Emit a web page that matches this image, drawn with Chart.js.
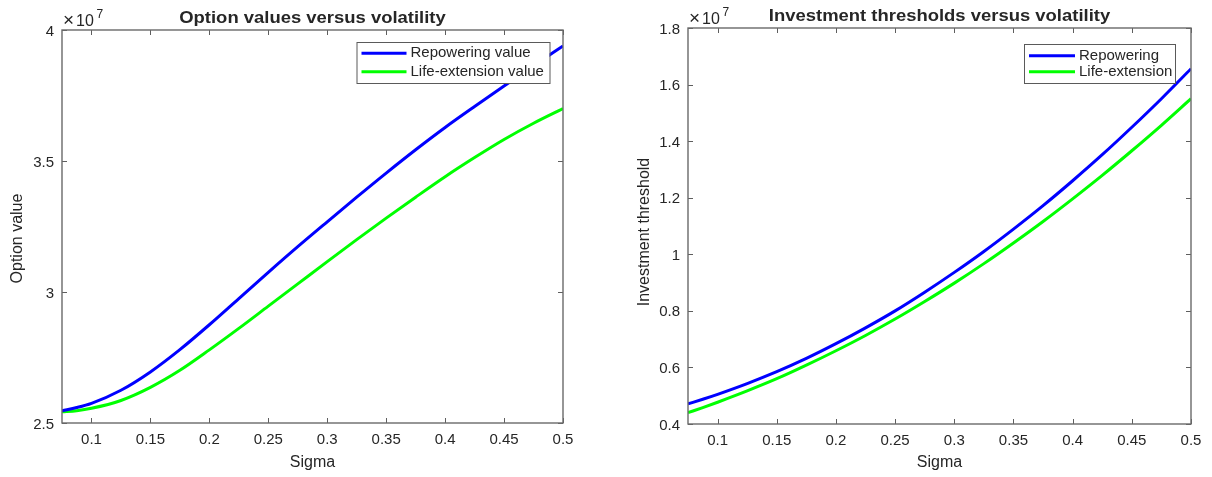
<!DOCTYPE html>
<html>
<head>
<meta charset="utf-8">
<script src="https://cdn.jsdelivr.net/npm/chart.js@4"></script>
<style>
  html, body { margin: 0; padding: 0; background: #ffffff; }
  #wrap { position: relative; width: 1212px; height: 477px; overflow: hidden; }
  .pane { position: absolute; top: 0; width: 606px; height: 477px; }
</style>
</head>
<body>
<div id="wrap">
  <div class="pane" style="left:0"><canvas id="optionChart" width="606" height="477"></canvas></div>
  <div class="pane" style="left:606px"><canvas id="thresholdChart" width="606" height="477"></canvas></div>
</div>
<script>
// Volatility grid shared by both panels
const sigma = [0.075, 0.0875, 0.1, 0.125, 0.15, 0.175, 0.2, 0.225, 0.25, 0.275, 0.3,
               0.325, 0.35, 0.375, 0.4, 0.425, 0.45, 0.475, 0.5];

// Option values (currency units)
const repoweringValue = [25470000, 25590000, 25750000, 26250000, 26950000, 27800000, 28750000,
                         29750000, 30750000, 31730000, 32680000, 33620000, 34540000,
                         35430000, 36280000, 37080000, 37860000, 38630000, 39390000];
const lifeExtensionValue = [25430000, 25470000, 25560000, 25860000, 26360000, 27010000, 27790000,
                            28610000, 29460000, 30310000, 31160000, 32000000, 32820000,
                            33620000, 34400000, 35130000, 35820000, 36440000, 37000000];

// Investment thresholds (currency units)
const repoweringThreshold = [4710000, 4875000, 5050000, 5430000, 5850000, 6320000, 6840000,
                             7400000, 8000000, 8660000, 9360000, 10100000, 10890000,
                             11720000, 12600000, 13520000, 14490000, 15500000, 16560000];
const lifeExtensionThreshold = [4400000, 4580000, 4770000, 5170000, 5600000, 6080000, 6590000,
                                7130000, 7710000, 8330000, 8980000, 9670000, 10400000,
                                11160000, 11960000, 12790000, 13660000, 14560000, 15500000];

// Tick values
const sigmaTicks = [0.1, 0.15, 0.2, 0.25, 0.3, 0.35, 0.4, 0.45, 0.5];
const optionTicks = [25000000, 30000000, 35000000, 40000000];
const thresholdTicks = [4000000, 6000000, 8000000, 10000000, 12000000, 14000000, 16000000, 18000000];

const EXP = 1e7;
const INK = '#262626';
const FONT = '"Liberation Sans", Arial, Helvetica, sans-serif';

function points(xs, ys) { return xs.map((x, i) => ({ x: x, y: ys[i] })); }

function drawText(ctx, str, x, y, font, align, baseline, sx, rot) {
  ctx.save();
  ctx.translate(x, y);
  if (rot) ctx.rotate(rot);
  ctx.scale(sx || 1, 1);
  ctx.font = font;
  ctx.textAlign = align;
  ctx.textBaseline = baseline;
  ctx.fillStyle = INK;
  ctx.fillText(str, 0, 0);
  ctx.restore();
}

// Draws the MATLAB-style frame: box, inward ticks, labels, title and legend
const framePlugin = {
  id: 'frame',
  afterDraw(chart, args, o) {
    const ctx = chart.ctx;
    const a = chart.chartArea;
    const xs = chart.scales.x, ys = chart.scales.y;
    const TL = 5;
    ctx.save();

    // tick marks on all four sides, pointing inward
    ctx.strokeStyle = '#5e5e5e';
    ctx.lineWidth = 1;
    ctx.beginPath();
    xs.ticks.forEach(t => {
      const px = Math.round(xs.getPixelForValue(t.value)) + 0.5;
      ctx.moveTo(px, a.bottom); ctx.lineTo(px, a.bottom - TL);
      ctx.moveTo(px, a.top); ctx.lineTo(px, a.top + TL);
    });
    ys.ticks.forEach(t => {
      const py = Math.round(ys.getPixelForValue(t.value)) + 0.5;
      ctx.moveTo(a.left, py); ctx.lineTo(a.left + TL, py);
      ctx.moveTo(a.right, py); ctx.lineTo(a.right - TL, py);
    });
    ctx.stroke();

    // axes box
    ctx.strokeStyle = '#6a6a6a';
    ctx.lineWidth = 1.4;
    ctx.strokeRect(a.left, a.top, a.right - a.left, a.bottom - a.top);

    // tick labels
    const tickFont = '15px ' + FONT;
    xs.ticks.forEach(t => {
      drawText(ctx, String(t.value), xs.getPixelForValue(t.value), a.bottom + 16.5, tickFont, 'center', 'middle');
    });
    ys.ticks.forEach(t => {
      const v = Math.round(t.value / EXP * 10) / 10;
      drawText(ctx, String(v), a.left - 8, ys.getPixelForValue(t.value) + 1.5, tickFont, 'right', 'middle');
    });

    // exponent marker (x10^7)
    drawText(ctx, '\u00d7', a.left + 1, a.top - 4, '19px ' + FONT, 'left', 'alphabetic');
    drawText(ctx, '10', a.left + 14, a.top - 4, '16px ' + FONT, 'left', 'alphabetic');
    drawText(ctx, '7', a.left + 34.5, a.top - 11.7, '12px ' + FONT, 'left', 'alphabetic');

    // title and axis labels
    const cx = (a.left + a.right) / 2;
    drawText(ctx, o.title, cx, a.top - 7, 'bold 17px ' + FONT, 'center', 'alphabetic', 1.085);
    drawText(ctx, 'Sigma', cx, 463, '16px ' + FONT, 'center', 'middle');
    drawText(ctx, o.yLabel, o.yLabelX, (a.top + a.bottom) / 2 + o.yLabelShift, '16px ' + FONT, 'center', 'middle', 1, -Math.PI / 2);

    // legend box
    const L = o.legend;
    ctx.fillStyle = '#ffffff';
    ctx.fillRect(L.x, L.y, L.w, L.h);
    ctx.strokeStyle = '#5a5a5a';
    ctx.lineWidth = 1;
    ctx.strokeRect(L.x + 0.5, L.y + 0.5, L.w, L.h);
    chart.data.datasets.forEach((ds, i) => {
      const ry = L.y + L.row0 + i * L.rowGap;
      ctx.strokeStyle = ds.borderColor;
      ctx.lineWidth = 3;
      ctx.beginPath();
      ctx.moveTo(L.x + 5, ry); ctx.lineTo(L.x + 5 + L.lineLen, ry);
      ctx.stroke();
      drawText(ctx, ds.label, L.x + L.lineLen + 9, ry, '15px ' + FONT, 'left', 'middle');
    });
    ctx.restore();
  }
};

function makeChart(id, series, yTicks, yMin, yMax, frame, yWidth, padRight, padTop, xHeight) {
  return new Chart(document.getElementById(id), {
    type: 'line',
    data: {
      datasets: series.map(s => ({
        label: s.label,
        data: points(sigma, s.values),
        borderColor: s.color,
        borderWidth: 3,
        pointRadius: 0,
        fill: false,
        cubicInterpolationMode: 'monotone'
      }))
    },
    options: {
      responsive: false,
      devicePixelRatio: 1,
      animation: false,
      events: [],
      layout: { padding: { left: 0, right: padRight, top: padTop, bottom: 0 } },
      plugins: { legend: { display: false }, title: { display: false }, tooltip: { enabled: false }, frame: frame },
      scales: {
        x: {
          type: 'linear', min: 0.075, max: 0.5,
          afterBuildTicks: s => { s.ticks = sigmaTicks.map(v => ({ value: v })); },
          afterFit: s => { s.height = xHeight; },
          ticks: { display: false },
          grid: { display: false },
          border: { display: false }
        },
        y: {
          type: 'linear', min: yMin, max: yMax,
          afterBuildTicks: s => { s.ticks = yTicks.map(v => ({ value: v })); },
          afterFit: s => { s.width = yWidth; },
          ticks: { display: false },
          grid: { display: false },
          border: { display: false }
        }
      }
    },
    plugins: [framePlugin]
  });
}

makeChart('optionChart', [
  { label: 'Repowering value', values: repoweringValue, color: '#0000ff' },
  { label: 'Life-extension value', values: lifeExtensionValue, color: '#00ff00' }
], optionTicks, 25000000, 40000000, {
  title: 'Option values versus volatility',
  yLabel: 'Option value', yLabelX: 18, yLabelShift: 12,
  legend: { x: 356.5, y: 42, w: 193, h: 41, row0: 11.3, rowGap: 18.4, lineLen: 45 }
}, 62, 43, 30, 54);

makeChart('thresholdChart', [
  { label: 'Repowering', values: repoweringThreshold, color: '#0000ff' },
  { label: 'Life-extension', values: lifeExtensionThreshold, color: '#00ff00' }
], thresholdTicks, 4000000, 18000000, {
  title: 'Investment thresholds versus volatility',
  yLabel: 'Investment threshold', yLabelX: 39, yLabelShift: 6,
  legend: { x: 418, y: 44, w: 151, h: 39, row0: 11.7, rowGap: 16, lineLen: 46 }
}, 82, 21, 28, 53);
</script>
</body>
</html>
